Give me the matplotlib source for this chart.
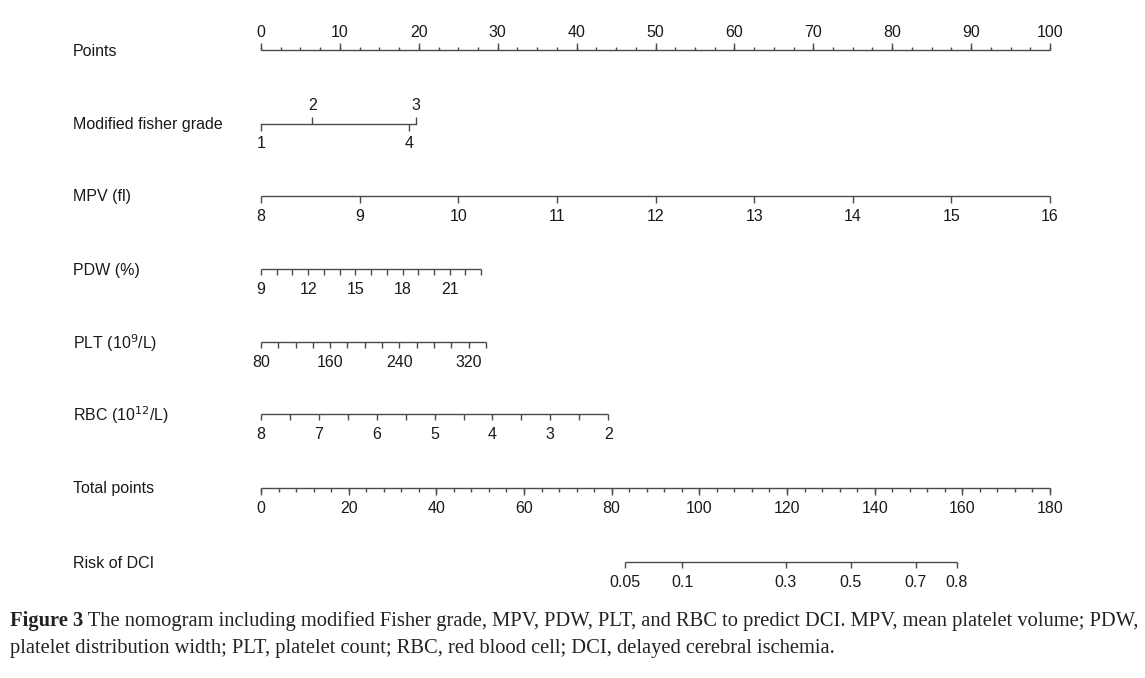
import numpy as np
import matplotlib.pyplot as plt

plt.rcParams['font.family'] = ['Liberation Sans', 'DejaVu Sans']

# row labels, top to bottom
row_labels = ['Points', 'Modified fisher grade', 'MPV (fl)', 'PDW (%)',
              'PLT (10$^{9}$/L)', 'RBC (10$^{12}$/L)', 'Total points', 'Risk of DCI']

# Points scale
points_major = np.arange(0, 101, 10)
points_minor = np.arange(0, 100.1, 2.5)

# Modified fisher grade
fisher_levels = ['1', '2', '3', '4']
fisher_points = [0, 6.5, 19.6, 18.8]
fisher_up = [False, True, True, False]

# continuous predictors: value range and points at the far end
mpv_ticks = np.arange(8, 17, 1)
mpv_labels = [8, 9, 10, 11, 12, 13, 14, 15, 16]
mpv_range, mpv_max_pts = (8, 16), 100

pdw_ticks = np.arange(9, 24, 1)
pdw_labels = [9, 12, 15, 18, 21]
pdw_range, pdw_max_pts = (9, 23), 27.9

plt_ticks = np.arange(80, 341, 20)
plt_labels = [80, 160, 240, 320]
plt_range, plt_max_pts = (80, 340), 28.5

rbc_ticks = np.arange(8, 1.9, -0.5)
rbc_labels = [8, 7, 6, 5, 4, 3, 2]
rbc_range, rbc_max_pts = (8, 2), 44.0

# Total points
total_major = np.arange(0, 181, 20)
total_minor = np.arange(0, 181, 4)
total_max = 180

# Risk of DCI (total points)
risk_labels = ['0.05', '0.1', '0.3', '0.5', '0.7', '0.8']
risk_total_pts = [83.0, 96.1, 119.7, 134.6, 149.4, 158.7]

# layout in pixels
W, H = 1145, 678
x0_px, x100_px = 261, 1050
row_y = [50, 124, 196, 269, 342, 414, 488, 562]
label_x_px = 73

fig = plt.figure(figsize=(W / 100, H / 100), dpi=100)
ax = fig.add_axes([0, 0, 1, 1])
scale = (x100_px - x0_px) / 100.0
ax.set_xlim(-x0_px / scale, (W - x0_px) / scale)
ax.set_ylim(H, 0)
ax.axis('off')

lc = '#4a4a4a'
tc = '#1a1a1a'
fs = 11.5
lw = 1.0


def to_pts(v, rng, maxp):
    return (np.asarray(v, float) - rng[0]) / (rng[1] - rng[0]) * maxp


def draw_scale(y, pos, lab_pos, labels, tick_len=6, up=False, minor_pos=None, minor_len=None):
    ax.plot([min(pos), max(pos)], [y, y], color=lc, lw=lw, solid_capstyle='butt')
    d = -1 if up else 1
    ax.vlines(pos, y, y + d * tick_len, color=lc, lw=lw)
    if minor_pos is not None:
        ax.vlines(minor_pos, y, y + d * minor_len, color=lc, lw=lw)
    off = 17.5 if up else 20.5
    for p, s in zip(lab_pos, labels):
        ax.text(p, y + d * off, str(s), ha='center', va='center', fontsize=fs, color=tc)


# row labels
lx = (label_x_px - x0_px) / scale
for y, s in zip(row_y, row_labels):
    ax.text(lx, y + 1, s, ha='left', va='center', fontsize=fs, color=tc)

# Points
draw_scale(row_y[0], points_major, points_major, points_major, tick_len=7, up=True,
           minor_pos=points_minor, minor_len=3.5)

# Modified fisher grade
y = row_y[1]
ax.plot([min(fisher_points), max(fisher_points)], [y, y], color=lc, lw=lw)
for p, s, u in zip(fisher_points, fisher_levels, fisher_up):
    d = -1 if u else 1
    ax.vlines(p, y, y + d * 7, color=lc, lw=lw)
    ax.text(p, y + d * (18 if u else 19.5), s, ha='center', va='center', fontsize=fs, color=tc)

# MPV
draw_scale(row_y[2], to_pts(mpv_ticks, mpv_range, mpv_max_pts),
           to_pts(mpv_labels, mpv_range, mpv_max_pts), mpv_labels, tick_len=7)
# PDW
draw_scale(row_y[3], to_pts(pdw_ticks, pdw_range, pdw_max_pts),
           to_pts(pdw_labels, pdw_range, pdw_max_pts), pdw_labels)
# PLT
draw_scale(row_y[4], to_pts(plt_ticks, plt_range, plt_max_pts),
           to_pts(plt_labels, plt_range, plt_max_pts), plt_labels)
# RBC
draw_scale(row_y[5], to_pts(rbc_ticks, rbc_range, rbc_max_pts),
           to_pts(rbc_labels, rbc_range, rbc_max_pts), rbc_labels)
# Total points
draw_scale(row_y[6], total_major / total_max * 100, total_major / total_max * 100,
           total_major, tick_len=7, minor_pos=total_minor / total_max * 100, minor_len=3.5)
# Risk of DCI
rp = np.array(risk_total_pts) / total_max * 100
draw_scale(row_y[7], rp, rp, risk_labels)

# caption
cap1 = ('The nomogram including modified Fisher grade, MPV, PDW, PLT, and RBC to predict DCI. '
        'MPV, mean platelet volume; PDW,')
cap2 = 'platelet distribution width; PLT, platelet count; RBC, red blood cell; DCI, delayed cerebral ischemia.'
cfs = 14.8
t1 = fig.text(10 / W, 1 - 626 / H, 'Figure 3', fontsize=cfs, fontweight='bold',
              family='Liberation Serif', color='#222222', va='baseline')
ax.annotate(' ' + cap1, xy=(1, 0), xycoords=t1, va='bottom', ha='left',
            fontsize=cfs, family='Liberation Serif', color='#222222')
fig.text(10 / W, 1 - 653 / H, cap2, fontsize=cfs, family='Liberation Serif',
         color='#222222', va='baseline')

fig.savefig('out.png', dpi=100)
